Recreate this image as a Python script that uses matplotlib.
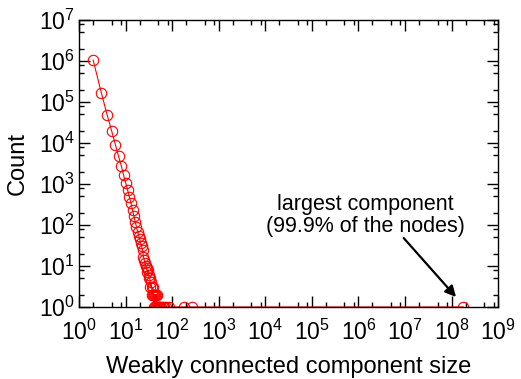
import matplotlib
matplotlib.use("Agg")
import matplotlib.pyplot as plt
from matplotlib.ticker import LogLocator, NullFormatter

plt.rcParams['font.family'] = ['Liberation Sans', 'DejaVu Sans']
plt.rcParams['mathtext.fontset'] = 'custom'
plt.rcParams['mathtext.rm'] = 'Liberation Sans'
plt.rcParams['mathtext.it'] = 'Liberation Sans:italic'

# component size vs number of components
sizes = [2, 3, 4, 5, 6, 7, 8, 9, 10, 11, 12, 13, 14, 15, 16, 17, 18, 19, 20,
         21, 22, 23, 24, 25, 26, 27, 28, 29, 30, 31, 32, 33, 34, 35, 36, 37,
         38, 39, 40, 41, 42, 43, 44, 45, 46, 47, 49, 51, 53, 55, 58, 62, 67,
         74, 84, 180, 260, 180000000]
counts = [1050000, 165000, 48000, 19500, 9100, 4800, 2800, 1650, 1050, 700,
          480, 340, 230, 165, 120, 90, 69, 55, 45, 36, 30, 24, 17, 14, 12, 10,
          9, 7, 8, 6, 5, 5, 3, 4, 3, 2, 3, 2, 1, 2, 2, 1, 2, 1, 2, 1, 1, 1, 1,
          1, 1, 1, 1, 1, 1, 1, 1, 1]

fig = plt.figure(figsize=(5.21, 3.79), dpi=100)
ax = fig.add_axes([0.152, 0.190, 0.804, 0.757])

ax.plot(sizes, counts, color='red', lw=0.8, marker='o', markersize=7.5,
        markerfacecolor='none', markeredgecolor='red', markeredgewidth=0.8)

ax.set_xscale('log')
ax.set_yscale('log')
ax.set_xlim(1, 1e9)
ax.set_ylim(1, 1e7)

ax.xaxis.set_major_locator(LogLocator(base=10, numticks=20))
ax.yaxis.set_major_locator(LogLocator(base=10, numticks=20))
ax.xaxis.set_minor_locator(LogLocator(base=10, subs=[2, 5, 8], numticks=20))
ax.yaxis.set_minor_locator(LogLocator(base=10, subs=[2, 5, 8], numticks=20))
ax.xaxis.set_minor_formatter(NullFormatter())
ax.yaxis.set_minor_formatter(NullFormatter())

ax.tick_params(which='both', direction='in', top=True, right=True,
               width=1.0, labelsize=16.5)
ax.tick_params(which='major', length=8)
ax.tick_params(which='minor', length=3.5)
ax.tick_params(axis='x', pad=9)
ax.tick_params(axis='y', pad=3)
for s in ax.spines.values():
    s.set_linewidth(1.0)

ax.set_xlabel("Weakly connected component size", fontsize=17, labelpad=8)
ax.set_ylabel("Count", fontsize=17, labelpad=7)

ax.text(1.4e6, 170, "largest component\n(99.9% of the nodes)", fontsize=15.5,
        ha='center', va='center', linespacing=1.1)
ax.annotate('', xy=(1.25e8, 1.75), xytext=(9.4e6, 48),
            arrowprops=dict(arrowstyle='-|>', color='black', lw=1.6,
                            mutation_scale=16, shrinkA=0, shrinkB=0))

plt.savefig('out.png', dpi=100)
